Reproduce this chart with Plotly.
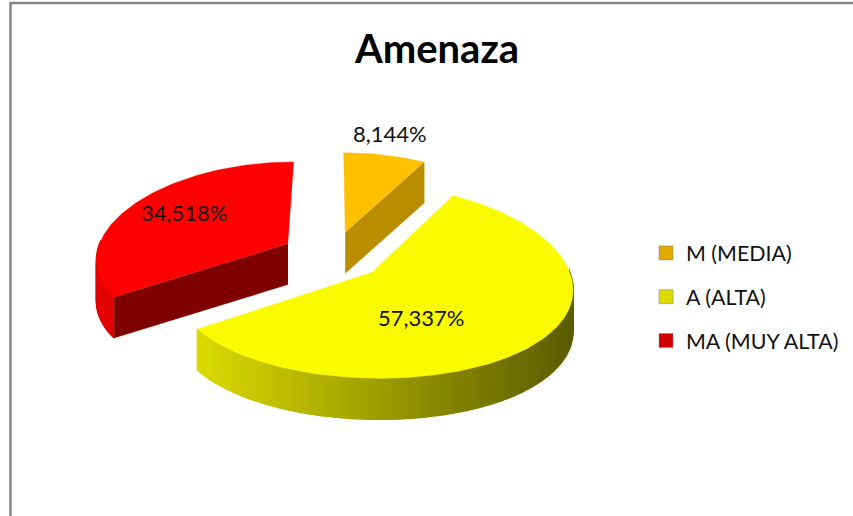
import math
import plotly.graph_objects as go

TITLE = "Amenaza"
CATEGORIES = ["M (MEDIA)", "A (ALTA)", "MA (MUY ALTA)"]
VALUES = [8.144, 57.337, 34.518]
LABELS = ["8,144%", "57,337%", "34,518%"]
TOP_COLORS = ["#FFC000", "#FAFA00", "#FF0000"]
CUT_COLORS = ["#BA8C00", "#C8C800", "#7F0000"]
LEGEND_COLORS = ["#E3A900", "#DCDC00", "#D00000"]
LABEL_RADII = [1.27, 0.40, 0.58]
LABEL_SHIFTS = [(-4, 3), (-14, -19), (-13, 7)]
EXPLODES = [0.26, 0.27, 0.27]
# which cut face of each slice faces the viewer (None = neither)
VISIBLE_CUT = [1, None, 0]

# projection of the exploded disc on to the page
CX, CY = 333, 255
RX, RY = 192, 92
KX, KY = 0.15, 0.10
DEPTH = 41
FONT = "Lato, 'Open Sans', sans-serif"


def project(u, v, drop=0):
    return (CX + RX * u / (1 + KX * v),
            CY - RY * v / (1 + KY * v) + drop)


def shade(c1, c2, t):
    a = [int(c1[i:i + 2], 16) for i in (1, 3, 5)]
    b = [int(c2[i:i + 2], 16) for i in (1, 3, 5)]
    return "rgb(%d,%d,%d)" % tuple(round(x + (y - x) * t) for x, y in zip(a, b))


fig = go.Figure()


def poly(points, color, width=0.3):
    fig.add_trace(go.Scatter(
        x=[p[0] for p in points], y=[p[1] for p in points],
        mode="lines", fill="toself", fillcolor=color,
        line=dict(color=color, width=width),
        hoverinfo="skip", showlegend=False))


total = sum(VALUES)
start = 0.0
spans = []
for value in VALUES:
    spans.append((start, start + value / total * 2 * math.pi))
    start = spans[-1][1]

annotations = []
for i, (a0, a1) in enumerate(spans):
    mid = (a0 + a1) / 2
    ox, oy = EXPLODES[i] * math.sin(mid), EXPLODES[i] * math.cos(mid)
    n = max(8, int((a1 - a0) * 40))
    angles = [a0 + (a1 - a0) * j / n for j in range(n + 1)]
    rim = [(ox + math.sin(a), oy + math.cos(a)) for a in angles]
    apex = (ox, oy)

    # outer wall: only the part on the near side of the disc
    for j in range(n):
        if math.cos(angles[j]) > 0.03 and math.cos(angles[j + 1]) > 0.03:
            continue
        p, q = rim[j], rim[j + 1]
        x = project(*p)[0]
        if i == 1:
            color = shade("#DCDC00", "#5C5C00", min(1, max(0, (x - 195) / 375)))
        elif i == 2:
            color = "#E20000"
        else:
            color = CUT_COLORS[0]
        poly([project(*p), project(*q), project(*q, DEPTH), project(*p, DEPTH)], color, 1.4)

    # cut face
    if VISIBLE_CUT[i] is not None:
        edge = rim[-VISIBLE_CUT[i]]
        poly([project(*apex), project(*edge), project(*edge, DEPTH), project(*apex, DEPTH)],
             CUT_COLORS[i])

    # top face
    poly([project(*apex)] + [project(*p) for p in rim], TOP_COLORS[i])

    r = LABEL_RADII[i]
    lx, ly = project(ox + r * math.sin(mid), oy + r * math.cos(mid))
    annotations.append(dict(x=lx, y=ly, text=LABELS[i], showarrow=False,
                            xshift=LABEL_SHIFTS[i][0], yshift=LABEL_SHIFTS[i][1],
                            font=dict(family=FONT, size=22, color="#111111")))

for name, color in zip(CATEGORIES, LEGEND_COLORS):
    fig.add_trace(go.Scatter(
        x=[None], y=[None], mode="markers", name=name, legendgroup=name,
        marker=dict(symbol="square", size=14, color=color,
                    line=dict(color="#808080", width=0.5))))

fig.update_layout(
    width=853, height=516, margin=dict(l=0, r=0, t=0, b=0),
    paper_bgcolor="white", plot_bgcolor="white",
    title=dict(text="<b>%s</b>" % TITLE, x=437 / 853, xanchor="center",
               y=1 - 49 / 516, yanchor="middle",
               font=dict(family=FONT, size=40, color="black")),
    xaxis=dict(range=[0, 853], visible=False, fixedrange=True),
    yaxis=dict(range=[516, 0], visible=False, fixedrange=True),
    legend=dict(x=646 / 853, y=1 - 297 / 516, xanchor="left", yanchor="middle",
                font=dict(family=FONT, size=21.4, color="#111111"),
                traceorder="grouped", tracegroupgap=13, bgcolor="rgba(0,0,0,0)"),
    annotations=annotations,
    shapes=[dict(type="path", path="M 10.5 516 L 10.5 3 L 853 3",
                 line=dict(color="#868686", width=2.5))],
)
fig.write_html("out.html", config={"displayModeBar": False},
               post_script="document.body.style.margin='0';")
